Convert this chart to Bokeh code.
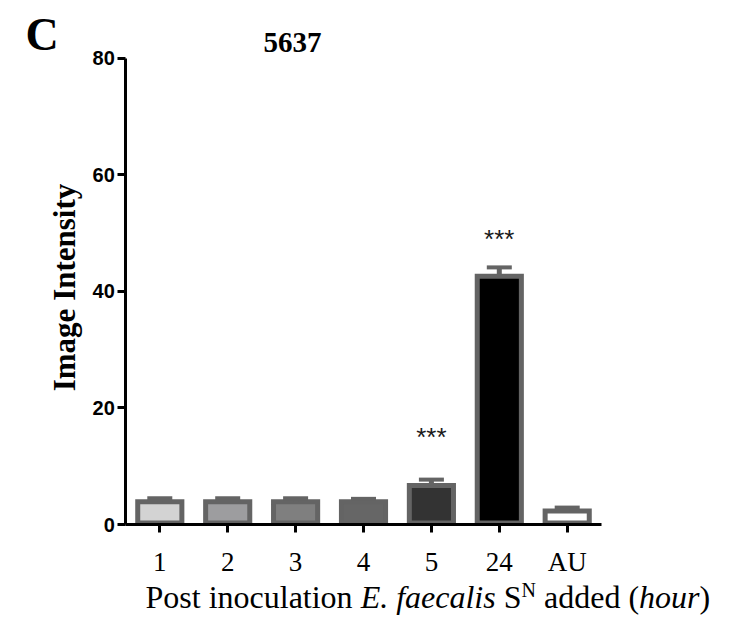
from bokeh.plotting import figure
from bokeh.models import ColumnDataSource, Range1d, Whisker, TeeHead, Label, FixedTicker
from bokeh.core.properties import value
from bokeh.embed import file_html
from bokeh.resources import INLINE
from math import pi

# Image intensity per post-inoculation time point (mean and error)
hours = ["1", "2", "3", "4", "5", "24", "AU"]
intensity = [3.9, 3.9, 3.9, 3.9, 6.7, 42.6, 2.3]
sem = [0.6, 0.6, 0.6, 0.5, 1.0, 1.5, 0.6]
significance = ["", "", "", "", "***", "***", ""]
y_ticks = [0, 20, 40, 60, 80]

fills = ["#d3d3d3", "#9d9d9f", "#7f7f7f", "#666666", "#333333", "#000000", "#ffffff"]
edge = "#646464"
SERIF = "Liberation Serif"
SANS = "Liberation Sans"

W, H = 738, 617
# pixel geometry of the data area: first group centre, group spacing,
# row of the zero line and pixels per intensity unit
X1_PX, DX_PX = 159.3, 67.9
Y0_PX, DY_PX = 524.0, 5.83
BAR_LINE = 5

pos = list(range(1, len(hours) + 1))
source = ColumnDataSource(dict(
    x=pos,
    mean=intensity,
    upper=[m + e for m, e in zip(intensity, sem)],
    fill=fills,
))

p = figure(width=W, height=H, title=None, output_backend="svg", toolbar_location=None,
           x_range=Range1d(1 - X1_PX / DX_PX, 1 + (W - X1_PX) / DX_PX),
           y_range=Range1d(-(H - Y0_PX) / DY_PX, Y0_PX / DY_PX),
           min_border=0)
p.outline_line_color = None
p.xgrid.visible = False
p.ygrid.visible = False
p.background_fill_color = "white"
p.border_fill_color = "white"

# lift the bar base by half the outline so the outline sits behind the axis line
p.vbar(x="x", top="mean", bottom=(BAR_LINE / 2 - 1) / DY_PX, width=0.65, source=source,
       fill_color="fill", line_color=edge, line_width=BAR_LINE, line_join="miter")

p.add_layout(Whisker(source=source, base="x", lower="mean", upper="upper",
                     line_color=edge, line_width=5, level="glyph",
                     upper_head=TeeHead(size=25, line_color=edge, line_width=4),
                     lower_head=None))

# significance stars above the treated groups
star_level = {"5": 15.0, "24": 49.0}
for x, h, s in zip(pos, hours, significance):
    if s:
        p.text(x=[x], y=[star_level[h]], text=[s], text_font=value(SANS),
               text_font_size="26px", text_align="center", text_baseline="middle",
               text_color="#1a1a1a")

xa = p.xaxis[0]
xa.fixed_location = 0
xa.bounds = (0.5, len(hours) + 0.5)
xa.ticker = FixedTicker(ticks=pos)
xa.major_label_overrides = {x: h for x, h in zip(pos, hours)}
xa.axis_line_width = 3
xa.axis_line_color = "black"
xa.major_tick_line_width = 3
xa.major_tick_out = 8
xa.major_tick_in = 0
xa.minor_tick_line_color = None
xa.major_label_text_font = SERIF
xa.major_label_text_font_size = "27px"
xa.major_label_text_color = "black"
xa.major_label_standoff = 14

ya = p.yaxis[0]
ya.fixed_location = 0.5
ya.bounds = (0, 80)
ya.ticker = FixedTicker(ticks=y_ticks)
ya.axis_line_width = 3
ya.axis_line_color = "black"
ya.major_tick_line_width = 3
ya.major_tick_out = 8
ya.major_tick_in = 0
ya.minor_tick_line_color = None
ya.major_label_text_font = SANS
ya.major_label_text_font_style = "bold"
ya.major_label_text_font_size = "20px"
ya.major_label_text_color = "black"
ya.major_label_standoff = 3


def canvas_label(x, baseline, text, size, **kw):
    """Place a label by canvas pixel position of its baseline (measured from the top)."""
    mid = baseline - 0.34 * size
    p.add_layout(Label(x=x, y=H - mid, x_units="screen", y_units="screen",
                       text=text, text_font=SERIF, text_font_size=f"{size}px",
                       text_color="black", text_baseline="middle", **kw))


canvas_label(25, 50, "C", 46, text_font_style="bold")
canvas_label(292, 52, "5637", 29, text_font_style="bold", text_align="center")
p.add_layout(Label(x=64, y=H - 287, x_units="screen", y_units="screen",
                   text="Image Intensity", angle=pi / 2, text_font=SERIF,
                   text_font_style="bold", text_font_size="31px", text_color="black",
                   text_align="center", text_baseline="middle"))

# x-axis title built from runs of regular, italic and superscript text
REG = {" ": 250, "P": 556, "o": 500, "s": 389, "t": 278, "i": 278, "n": 500, "c": 444,
       "u": 500, "l": 278, "a": 444, "S": 556, "N": 722, "d": 500, "e": 444, "(": 333, ")": 333}
ITA = {" ": 250, "E": 611, ".": 250, "f": 278, "a": 500, "e": 444, "c": 444, "l": 278,
       "i": 278, "s": 389, "h": 500, "o": 500, "u": 500, "r": 389}
runs = [("Post inoculation ", "normal", 32, 0),
        ("E. faecalis", "italic", 32, 0),
        (" S", "normal", 32, 0),
        ("N", "normal", 20, 11),
        (" added (", "normal", 32, 0),
        ("hour", "italic", 32, 0),
        (")", "normal", 32, 0)]
cx = 145
for txt, style, size, rise in runs:
    table = ITA if style == "italic" else REG
    lead = len(txt) - len(txt.lstrip(" "))
    start = cx + lead * table[" "] * size / 1000
    canvas_label(start, 607 - rise, txt.strip(" "), size, text_font_style=style,
                 text_align="left")
    cx += sum(table[c] for c in txt) * size / 1000

open("out.html", "w").write(file_html(p, INLINE))
